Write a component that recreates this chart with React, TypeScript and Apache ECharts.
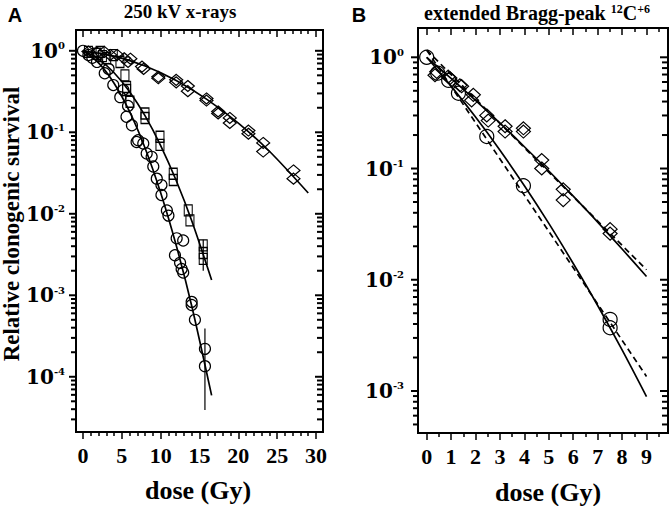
import React, { useEffect, useRef } from "react";
import * as echarts from "echarts";

// ---------- Panel A : 250 kV x-rays ----------
const diamondsA: number[][] = [
  [0.7, 0.98], [1.8, 0.95], [2.75, 0.97], [3.5, 0.89], [4.4, 0.89], [5.3, 0.81],
  [5.8, 0.73], [6.1, 0.8], [7.6, 0.64], [7.8, 0.6], [9.7, 0.48], [9.7, 0.46],
  [12.0, 0.44], [12.0, 0.41], [13.5, 0.37], [13.5, 0.32], [15.9, 0.26], [15.9, 0.245],
  [17.4, 0.18], [17.4, 0.17], [18.9, 0.15], [18.9, 0.13], [21.3, 0.105], [21.3, 0.096],
  [23.2, 0.074], [23.2, 0.058], [27.1, 0.034], [27.1, 0.027],
];
const squaresA: number[][] = [
  [0.7, 0.97], [1.8, 0.92], [2.2, 0.97], [2.5, 0.86], [3.05, 0.81], [3.9, 0.885],
  [4.76, 0.73], [5.4, 0.5], [5.62, 0.36], [5.62, 0.33], [6.05, 0.237], [7.98, 0.17],
  [7.98, 0.15], [9.91, 0.088], [9.91, 0.07], [11.62, 0.031], [11.62, 0.026],
  [13.55, 0.011], [13.77, 0.0083], [15.48, 0.0041], [15.48, 0.0033], [15.48, 0.0028],
];
const circlesA: number[][] = [
  [0, 1.0], [0.7, 0.89], [1.2, 0.82], [1.8, 0.73], [2.8, 0.53], [3.3, 0.6], [3.9, 0.38],
  [4.8, 0.27], [5.2, 0.33], [5.6, 0.155], [5.8, 0.21], [6.3, 0.122], [6.9, 0.076],
  [7.1, 0.08], [7.76, 0.073], [8.2, 0.055], [8.84, 0.05], [9.05, 0.038], [9.5, 0.027],
  [10.1, 0.0225], [10.1, 0.017], [10.8, 0.011], [11.0, 0.0095], [11.84, 0.0031],
  [12.06, 0.005], [12.5, 0.0025], [12.7, 0.0021], [12.9, 0.0047], [12.9, 0.0019],
  [13.99, 0.00083], [13.99, 0.00076], [14.41, 0.0005], [15.7, 0.00022], [15.7, 0.000135],
];
const fitDiamondA: number[][] = [
  [0, 1], [4, 0.86], [8, 0.65], [12, 0.432], [16, 0.252], [20, 0.1295], [24, 0.0585], [29, 0.018],
];
const fitSquareA: number[][] = [
  [0, 1], [2, 0.791], [4, 0.538], [6, 0.315], [8, 0.159], [10, 0.0688], [12, 0.0256],
  [14, 0.0082], [16.56, 0.00154],
];
const fitCircleA: number[][] = [
  [0, 1], [2, 0.71], [4, 0.4], [6, 0.179], [8, 0.0638], [10, 0.0181], [12, 0.0041],
  [14, 0.00074], [16.56, 0.000059],
];
const errA: number[][] = [
  [15.7, 0.000039, 0.00039],
  [15.48, 0.002, 0.0048],
];

// ---------- Panel B : extended Bragg-peak 12C+6 ----------
const diamondsB: number[][] = [
  [0.41, 0.74], [0.34, 0.69], [0.88, 0.67], [0.95, 0.65], [1.36, 0.56], [1.43, 0.55],
  [1.84, 0.41], [1.91, 0.46], [2.46, 0.3], [2.52, 0.27], [3.21, 0.24], [3.21, 0.215],
  [3.96, 0.23], [3.96, 0.215], [4.71, 0.119], [4.71, 0.1], [5.59, 0.065], [5.59, 0.052],
  [7.51, 0.0285], [7.51, 0.026],
];
const circlesB: number[][] = [
  [0, 1.0], [0.45, 0.72], [0.9, 0.62], [1.3, 0.475], [2.46, 0.194], [3.96, 0.07],
  [7.51, 0.0044], [7.51, 0.0037],
];
const fitDiamondB: number[][] = [
  [0, 1], [1, 0.645], [2, 0.41], [3, 0.256], [4, 0.157], [5, 0.095], [6, 0.0564],
  [7, 0.033], [8, 0.0189], [9, 0.0107],
];
const fitDiamondBDashed: number[][] = [[0, 1.16], [9, 0.0123]];
const fitCircleB: number[][] = [
  [0, 1], [1, 0.551], [2, 0.29], [3, 0.146], [4, 0.07], [5, 0.0321], [6, 0.014],
  [7, 0.00587], [8, 0.00234], [9, 0.00089],
];
const fitCircleBDashed: number[][] = [[0, 1.16], [9, 0.00135]];

// ---------- Axis ticks ----------
const doseTicksA = [0, 5, 10, 15, 20, 25, 30];
const doseMinorA = [1, 2, 3, 4, 6, 7, 8, 9, 11, 12, 13, 14, 16, 17, 18, 19, 21, 22, 23, 24, 26, 27, 28, 29];
const doseTicksB = [0, 1, 2, 3, 4, 5, 6, 7, 8, 9];
const doseMinorB = [0.5, 1.5, 2.5, 3.5, 4.5, 5.5, 6.5, 7.5, 8.5, 9.5];
const decadesA = [1e-4, 1e-3, 1e-2, 1e-1, 1];
const decadesB = [1e-3, 1e-2, 1e-1, 1];
const mantissas = [2, 3, 4, 5, 6, 7, 8, 9];
const minorDecades = [1e-5, 1e-4, 1e-3, 1e-2, 1e-1, 1];

const rangeA = { xMin: -0.9, xMax: 30.9, yMin: 2.1e-5, yMax: 1.8 };
const rangeB = { xMin: -0.356, xMax: 9.88, yMin: 4.19e-4, yMax: 1.834 };

const SERIF = "'Liberation Serif', 'Times New Roman', serif";
const WIDE = "'DejaVu Serif', serif";

function minorLog(min: number, max: number) {
  const out: number[] = [];
  minorDecades.forEach((d) => mantissas.forEach((m) => {
    const v = m * d;
    if (v > min && v < max) out.push(v);
  }));
  return out;
}

function xAxes(grid: number, r: any, majors: number[], minors: number[]) {
  const base = {
    type: "value", gridIndex: grid, min: r.xMin, max: r.xMax,
    axisLine: { show: false }, splitLine: { show: false },
  };
  const tickStyle = { color: "#000", width: 1.5 };
  return [
    {
      ...base, position: "bottom",
      axisTick: { show: true, inside: false, length: 7, lineStyle: tickStyle, customValues: majors },
      axisLabel: {
        show: true, customValues: majors, margin: 12, color: "#000",
        fontFamily: SERIF, fontWeight: "bold", fontSize: 22,
      },
    },
    {
      ...base, position: "bottom",
      axisTick: { show: true, inside: false, length: 4, lineStyle: tickStyle, customValues: minors },
      axisLabel: { show: false },
    },
    {
      ...base, position: "top",
      axisTick: { show: true, inside: true, length: 7, lineStyle: tickStyle, customValues: majors },
      axisLabel: { show: false },
    },
    {
      ...base, position: "top",
      axisTick: { show: true, inside: true, length: 4, lineStyle: tickStyle, customValues: minors },
      axisLabel: { show: false },
    },
  ];
}

function yAxis(grid: number, r: any, majors: number[], margin: number) {
  return {
    type: "log", logBase: 10, gridIndex: grid, min: r.yMin, max: r.yMax, position: "left",
    axisLine: { show: false }, splitLine: { show: false }, axisTick: { show: false },
    axisLabel: {
      show: true, customValues: majors, margin,
      formatter: (v: number) => `{b|10}{s|${Math.round(Math.log10(v))}}`,
      rich: {
        b: { fontFamily: WIDE, fontWeight: "bold", fontSize: 20, color: "#000" },
        s: { fontFamily: WIDE, fontWeight: "bold", fontSize: 10, color: "#000", verticalAlign: "top" },
      },
    },
  };
}

// log-axis tick marks drawn as thin rect symbols at the grid's left (outward) and right (inward) edges
function yTickSeries(xi: number, yi: number, r: any, majors: number[]) {
  const minors = minorLog(r.yMin, r.yMax);
  const mk = (x: number, vals: number[], w: number, off: number) => ({
    type: "scatter", xAxisIndex: xi, yAxisIndex: yi,
    data: vals.map((v) => [x, v]),
    symbol: "rect", symbolSize: [w, 2], symbolOffset: [off, 0],
    itemStyle: { color: "#000", opacity: 1 }, clip: false, z: 10,
  });
  return [
    mk(r.xMin, majors, 7, -3.5), mk(r.xMin, minors, 5, -2.5),
    mk(r.xMax, majors, 8, -4), mk(r.xMax, minors, 6, -3),
  ];
}

function scatter(data: number[][], xi: number, yi: number, symbol: string, size: any) {
  return {
    type: "scatter", xAxisIndex: xi, yAxisIndex: yi, data, symbol, symbolSize: size,
    itemStyle: { color: "rgba(255,255,255,0)", borderColor: "#000", borderWidth: 1.2, opacity: 1 },
    z: 3,
  };
}

function line(data: number[][], xi: number, yi: number, dashed = false) {
  return {
    type: "line", xAxisIndex: xi, yAxisIndex: yi, data, showSymbol: false, symbol: "none",
    smooth: dashed ? false : 0.3,
    lineStyle: { color: "#000", width: 1.7, type: dashed ? [6, 4] : "solid" },
    z: 4,
  };
}

const textStyle = (text: string, font: string) => ({
  text, font, fill: "#000", textAlign: "center", textVerticalAlign: "middle",
});

export default function App() {
  const ref = useRef<HTMLDivElement>(null);
  useEffect(() => {
    if (!ref.current) return;
    const chart = echarts.init(ref.current, null, { renderer: "svg" });
    const errSeries = errA.map((e) => ({
      type: "line", xAxisIndex: 0, yAxisIndex: 0, showSymbol: false, symbol: "none",
      data: [[e[0], e[1]], [e[0], e[2]]],
      lineStyle: { color: "#000", width: 1.2 }, z: 4,
    }));
    const option: any = {
      animation: false,
      backgroundColor: "#fff",
      grid: [
        { left: 76, top: 30, width: 247, height: 402, show: true, borderColor: "#000", borderWidth: 2, containLabel: false },
        { left: 418, top: 28, width: 250, height: 405, show: true, borderColor: "#000", borderWidth: 2, containLabel: false },
      ],
      xAxis: [
        ...xAxes(0, rangeA, doseTicksA, doseMinorA),
        ...xAxes(1, rangeB, doseTicksB, doseMinorB),
      ],
      yAxis: [
        yAxis(0, rangeA, decadesA, 11),
        yAxis(1, rangeB, decadesB, 14),
      ],
      series: [
        ...yTickSeries(0, 0, rangeA, decadesA),
        ...yTickSeries(4, 1, rangeB, decadesB),
        line(fitDiamondA, 0, 0), line(fitSquareA, 0, 0), line(fitCircleA, 0, 0),
        ...errSeries,
        scatter(diamondsA, 0, 0, "diamond", [13, 11]),
        scatter(squaresA, 0, 0, "rect", [8, 11]),
        scatter(circlesA, 0, 0, "circle", 11),
        line(fitDiamondB, 4, 1), line(fitDiamondBDashed, 4, 1, true),
        line(fitCircleB, 4, 1), line(fitCircleBDashed, 4, 1, true),
        scatter(diamondsB, 4, 1, "diamond", [14, 13]),
        scatter(circlesB, 4, 1, "circle", 14),
      ],
      graphic: [
        { type: "text", x: 15, y: 15, style: textStyle("A", "bold 20px 'Liberation Sans', Arial, sans-serif") },
        { type: "text", x: 359, y: 15, style: textStyle("B", "bold 20px 'Liberation Sans', Arial, sans-serif") },
        { type: "text", x: 180, y: 11, style: textStyle("250 kV x-rays", `bold 19px ${SERIF}`) },
        {
          type: "text", x: 537, y: 13,
          style: {
            text: "{t|extended Bragg-peak }{s|12}{t|C}{s|+6}",
            textAlign: "center", textVerticalAlign: "middle",
            rich: {
              t: { fontFamily: SERIF, fontWeight: "bold", fontSize: 20, fill: "#000", color: "#000" },
              s: { fontFamily: SERIF, fontWeight: "bold", fontSize: 12, fill: "#000", color: "#000", verticalAlign: "top" },
            },
          },
        },
        { type: "text", x: 11, y: 224, rotation: Math.PI / 2, style: textStyle("Relative clonogenic survival", `bold 23px ${SERIF}`) },
        { type: "text", x: 198, y: 490, style: textStyle("dose (Gy)", `bold 26px ${SERIF}`) },
        { type: "text", x: 548, y: 492, style: textStyle("dose (Gy)", `bold 26px ${SERIF}`) },
      ],
    };
    chart.setOption(option);
    return () => chart.dispose();
  }, []);
  return <div ref={ref} style={{ position: "fixed", left: 0, top: 0, width: 670, height: 506, background: "#fff" }} />;
}
